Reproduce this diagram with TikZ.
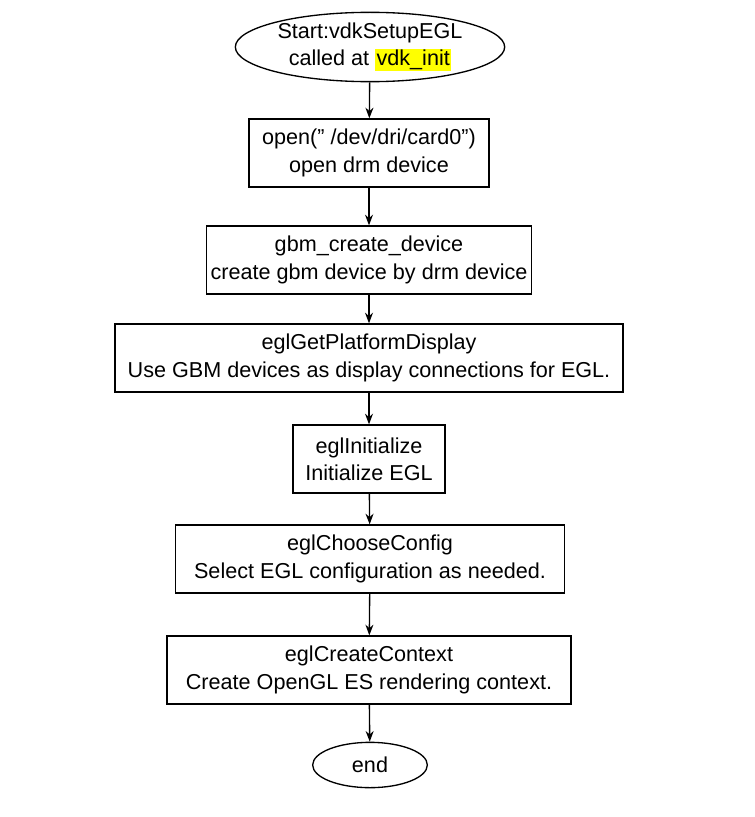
\documentclass[tikz,border=0pt]{standalone}
\usepackage{fontspec}
\setmainfont{Liberation Sans}
\usetikzlibrary{shapes.geometric,arrows.meta}
\definecolor{hl}{RGB}{255,255,0}
\tikzset{
  box/.style={draw, line width=1pt, rectangle, align=center, minimum height=51pt, inner sep=2pt},
  oval/.style={draw, line width=1pt, ellipse, align=center, inner sep=0pt},
  flow/.style={-{Stealth[length=8pt,width=6pt]}, line width=1pt}
}
\begin{document}
\begin{tikzpicture}[x=0.75pt, y=-0.75pt, font=\fontsize{16.2}{20.5}\selectfont]
    % Canvas
    \useasboundingbox (0,0) rectangle (754,817);

    % Nodes
    \node[oval, minimum width=202pt, minimum height=52pt] (start) at (370,47) {Start:vdkSetupEGL\\called at {\setlength{\fboxsep}{1pt}\colorbox{hl}{vdk\_init}}};
    \node[box, minimum width=180pt] (open) at (369,153) {open(" /dev/dri/card0")\\open drm device};
    \node[box, minimum width=244pt] (gbm) at (369,260) {gbm\_create\_device\\create gbm device by drm device};
    \node[box, minimum width=381pt] (disp) at (369,358) {eglGetPlatformDisplay\\Use GBM devices as display connections for EGL.};
    \node[box, minimum width=114pt] (init) at (369,459) {eglInitialize\\Initialize EGL};
    \node[box, minimum width=292pt] (conf) at (370,559) {eglChooseConfig\\ Select EGL configuration as needed.};
    \node[box, minimum width=303pt] (ctx) at (369,670) {eglCreateContext\\ Create OpenGL ES rendering context.};
    \node[oval, minimum width=86pt, minimum height=34pt] (end) at (370,765) {end};

    % Connectors
    \draw[flow] (start) -- (open);
    \draw[flow] (open) -- (gbm);
    \draw[flow] (gbm) -- (disp);
    \draw[flow] (disp) -- (init);
    \draw[flow] (init) -- (conf);
    \draw[flow] (conf) -- (ctx);
    \draw[flow] (ctx) -- (end);
\end{tikzpicture}
\end{document}
